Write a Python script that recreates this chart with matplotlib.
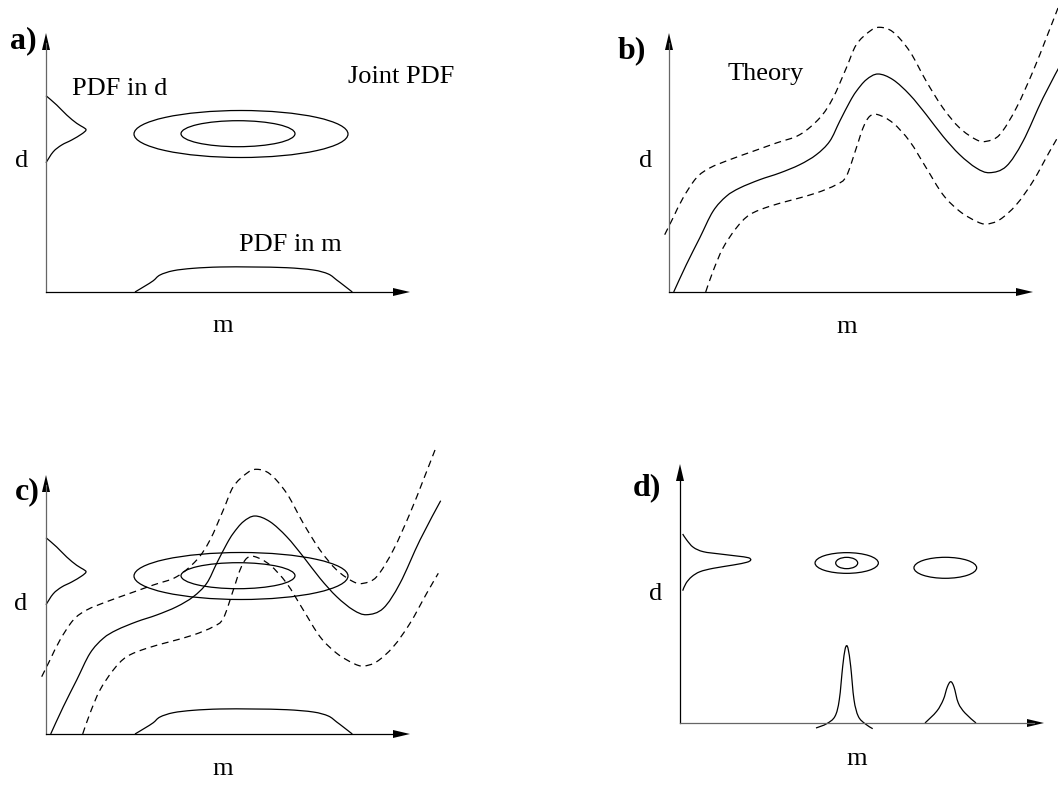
import matplotlib.pyplot as plt
from matplotlib.patches import Ellipse, PathPatch
from matplotlib.path import Path

# all values are in pixels, measured from each panel's (m, d) origin
# theory curve and its upper / lower error bounds (panels b and c)
theory_m = [4.7, 17.3, 30.7, 44, 57.3, 70.7, 90.7, 110.7, 130.7, 147.3, 160.7, 170.7, 180.7, 187.3,
            197.3, 209, 224, 240.7, 257.3, 274, 290.7, 307.3, 320.7, 337.3, 354, 374, 394.7]
theory_d = [0, 27.3, 54, 80.7, 95.7, 104, 112.3, 119, 127.3, 137.3, 150.7, 170.7, 190, 200.7,
            212.3, 218, 212.3, 197.3, 177.3, 155.7, 137.3, 124, 119.3, 125.7, 150.7, 194, 233.3]
upper_m = [-4.3, 4, 14, 27.3, 40.7, 60.7, 84, 107.3, 130.7, 150.7, 164, 177.3, 187.3, 200.7,
           210.7, 224, 240.7, 257.3, 274, 290.7, 307.3, 317.3, 330.7, 347.3, 364, 377.3, 389]
upper_d = [57.3, 74, 94, 114, 124, 132.3, 140.7, 149, 157.3, 174, 194, 224, 247.3, 260.7,
           264.7, 260, 240.7, 210.7, 184, 164, 152.3, 150.7, 157.3, 184, 220.7, 254, 284]
lower_m = [36.7, 44, 54, 67.3, 80.7, 100.7, 124, 147.3, 167.3, 177.3, 187.3, 194, 200.7, 209,
           224, 240.7, 257.3, 274, 290.7, 307.3, 317.3, 330.7, 347.3, 364, 380.7, 392.3]
lower_d = [0, 20.7, 44, 64, 77.3, 85.7, 92.3, 99, 107.3, 115.7, 144, 164, 175.7, 177.3,
           169, 150.7, 124, 97.3, 80.7, 70.7, 68, 72.3, 87.3, 110.7, 140.7, 160.7]

# marginal PDFs of panels a and c
pdfd_d = [196.3, 187, 177, 168.7, 164.7, 162, 158, 152, 147, 140.3, 129.3]
pdfd_val = [0, 10.7, 20.7, 30.7, 37.3, 40, 35.7, 25.7, 15.7, 7.3, 0]
pdfm_m = [89, 99, 107.3, 114, 127.3, 147.3, 174, 207.3, 240.7, 267.3, 282.3, 290.7, 297.3, 306.3]
pdfm_val = [0, 6, 11.3, 17, 21.3, 23.7, 25, 25, 24.3, 22, 18, 12, 7, 0]

# joint PDF contours (m centre, d centre, width, height)
joint_ac = [(195, 158, 214, 47), (192, 158.3, 114, 26)]
joint_d = [(166.7, 160, 63.3, 20.7), (166.7, 160, 22, 11.3), (265.3, 155.2, 62.7, 21)]

# panel d marginals
d_pdfd_d = [189, 183, 175.7, 171.3, 169, 167, 165.3, 163, 160.7, 158, 154.7, 151.3, 146.3, 139.7, 132.3]
d_pdfd_val = [2.7, 6.7, 13.3, 23.3, 40, 56.7, 68.3, 70.7, 66.7, 53.3, 33.3, 20, 11.7, 6, 2.7]
peak1_m = [136, 146.7, 155, 159.3, 162.7, 165, 166.7, 168.3, 170.7, 174, 178.3, 185, 192.7]
peak1_val = [-5, -0.7, 6.7, 23.3, 56.7, 73.3, 77.3, 73.3, 56.7, 23.3, 6.7, -0.7, -5.7]
peak2_m = [245, 256.7, 263.3, 267.3, 270.7, 274, 278.3, 285, 296]
peak2_val = [0, 11.7, 23.3, 36, 41.3, 36, 20, 10, 0]

# layout: panel origins in figure pixels (y measured up from the bottom)
W, H = 1058, 785
origins = {'a': (46, 493), 'b': (669, 493), 'c': (46, 51), 'd': (680, 62)}
AX_W, AX_H = 364, 259
SERIF = 'Liberation Serif'
LW = 0.9
DASH = (5.5, 3.8)

fig = plt.figure(figsize=(W / 100, H / 100), dpi=100)
ax = fig.add_axes([0, 0, 1, 1])
ax.set_xlim(0, W)
ax.set_ylim(0, H)
ax.axis('off')


def curve(key, xs, ys, dashed=False):
    # smooth line through the measured points (Catmull-Rom drawn as Bezier)
    ox, oy = origins[key]
    pts = [(ox + x, oy + y) for x, y in zip(xs, ys)]
    verts, codes = [pts[0]], [Path.MOVETO]
    n = len(pts)
    for i in range(n - 1):
        p0 = pts[max(i - 1, 0)]
        p1, p2 = pts[i], pts[i + 1]
        p3 = pts[min(i + 2, n - 1)]
        c1 = (p1[0] + (p2[0] - p0[0]) / 6, p1[1] + (p2[1] - p0[1]) / 6)
        c2 = (p2[0] - (p3[0] - p1[0]) / 6, p2[1] - (p3[1] - p1[1]) / 6)
        verts += [c1, c2, p2]
        codes += [Path.CURVE4] * 3
    ls = (0, DASH) if dashed else '-'
    ax.add_patch(PathPatch(Path(verts, codes), fill=False, ec='k', lw=LW, linestyle=ls))


def axes_arrows(key, ycol='#666666', xcol='k'):
    ox, oy = origins[key]
    ax.plot([ox, ox], [oy, oy + AX_H - 10], color=ycol, lw=LW)
    ax.plot([ox, ox + AX_W - 10], [oy, oy], color=xcol, lw=LW)
    ax.arrow(ox, oy + AX_H - 17, 0, 17, head_width=8, head_length=17,
             length_includes_head=True, width=0, fc='k', ec='k', lw=0)
    ax.arrow(ox + AX_W - 17, oy, 17, 0, head_width=8, head_length=17,
             length_includes_head=True, width=0, fc='k', ec='k', lw=0)


def label(key, x, y, s, bold=False, ha='left', size=19):
    ox, oy = origins[key]
    ax.text(ox + x, oy + y, s, ha=ha, va='baseline', family=SERIF,
            fontsize=23 if bold else size, fontweight='bold' if bold else 'normal')


def theory(key):
    curve(key, theory_m, theory_d)
    curve(key, upper_m, upper_d, dashed=True)
    curve(key, lower_m, lower_d, dashed=True)


def joint(key, ells):
    ox, oy = origins[key]
    for cx, cy, w, h in ells:
        ax.add_patch(Ellipse((ox + cx, oy + cy), w, h, fill=False, ec='k', lw=LW))


def marginals_ac(key):
    curve(key, pdfd_val, pdfd_d)
    curve(key, pdfm_m, pdfm_val)


# a) prior / joint PDF
axes_arrows('a')
marginals_ac('a')
joint('a', joint_ac)
label('a', -36, 244, 'a)', bold=True)
label('a', 26, 197, 'PDF in d')
label('a', 302, 209, 'Joint PDF')
label('a', 193, 41, 'PDF in m')
label('a', -24, 125, 'd', ha='center')
label('a', 177, -40, 'm', ha='center')

# b) theory
axes_arrows('b')
theory('b')
label('b', -51, 234, 'b)', bold=True)
label('b', 59, 212, 'Theory')
label('b', -23, 125, 'd', ha='center')
label('b', 178, -41, 'm', ha='center')

# c) combined
axes_arrows('c')
marginals_ac('c')
joint('c', joint_ac)
theory('c')
label('c', -31, 235, 'c)', bold=True)
label('c', -25, 124, 'd', ha='center')
label('c', 177, -41, 'm', ha='center')

# d) posterior
axes_arrows('d', ycol='k', xcol='#666666')
curve('d', d_pdfd_val, d_pdfd_d)
curve('d', peak1_m, peak1_val)
curve('d', peak2_m, peak2_val)
joint('d', joint_d)
label('d', -47, 228, 'd)', bold=True)
label('d', -24, 123, 'd', ha='center')
label('d', 177, -42, 'm', ha='center')

fig.savefig('out.png', dpi=100, facecolor='white')
